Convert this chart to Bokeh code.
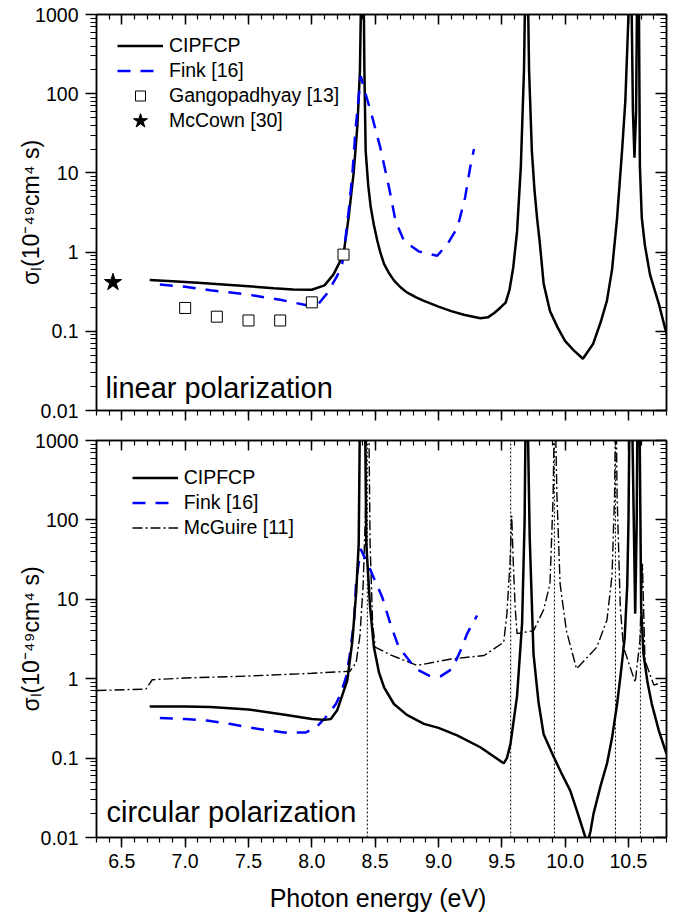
from bokeh.plotting import figure
from bokeh.models import (Range1d, LogAxis, LinearAxis, FixedTicker, SingleIntervalTicker,
                          PrintfTickFormatter, CustomJSTickFormatter, Legend, LegendItem, Label)
from bokeh.layouts import column
from bokeh.embed import file_html
from bokeh.resources import INLINE

# ---------------- data ----------------
X_START, X_END = 6.3, 10.8
Y_START, Y_END = 0.01, 1000
Y_MAJOR = [0.01, 0.1, 1, 10, 100, 1000]
Y_MINOR = [m * 10.0 ** e for e in range(-2, 3) for m in range(2, 10)]

# linear polarization
LIN_CIP_X = [6.72, 6.9, 7.1, 7.3, 7.5, 7.7, 7.85, 8.0, 8.1, 8.17, 8.25, 8.29, 8.33, 8.36, 8.38, 8.393,
             8.407, 8.415, 8.425, 8.445, 8.465, 8.49, 8.517, 8.54, 8.57, 8.61, 8.648, 8.7, 8.75, 8.82,
             8.88, 9.0, 9.1, 9.2, 9.33, 9.39, 9.44, 9.49, 9.53, 9.56, 9.59, 9.62, 9.65, 9.675,
             9.688, 9.702, 9.715, 9.737, 9.758, 9.778, 9.8, 9.83, 9.88, 9.94, 10.0, 10.07, 10.14, 10.22,
             10.28, 10.33, 10.37, 10.41, 10.45, 10.475, 10.5,
             10.508, 10.52, 10.535, 10.547, 10.56, 10.57, 10.58, 10.59, 10.605, 10.63, 10.67, 10.74, 10.8]
LIN_CIP_Y = [0.445, 0.43, 0.41, 0.39, 0.37, 0.35, 0.338, 0.335, 0.38, 0.52, 0.93, 2.7, 10, 40, 200, 5000,
             5000, 200, 19, 7, 3.7, 2.2, 1.39, 1.0, 0.71, 0.54, 0.44, 0.36, 0.31, 0.27,
             0.244, 0.205, 0.18, 0.162, 0.146, 0.15, 0.17, 0.2, 0.23, 0.33, 0.64, 1.8, 12, 200,
             5000, 5000, 200, 19, 6, 2.7, 1.3, 0.4, 0.18, 0.112, 0.075, 0.057, 0.045, 0.069,
             0.13, 0.244, 0.6, 2.7, 20, 81, 1000,
             5000, 5000, 60, 15.6, 60, 5000, 5000, 12, 2.7, 1.2, 0.52, 0.22, 0.093]

FINK_LIN_X = [6.8, 7.0, 7.2, 7.5, 7.75, 7.95, 8.05, 8.12, 8.2, 8.24, 8.27, 8.294, 8.32, 8.346, 8.386,
              8.425, 8.478, 8.54, 8.61, 8.66, 8.727, 8.845, 8.99, 9.07, 9.15, 9.21, 9.25, 9.28]
FINK_LIN_Y = [0.39, 0.365, 0.33, 0.29, 0.25, 0.215, 0.22, 0.3, 0.5, 0.71, 1.7, 3.7, 9.7, 37, 167,
              99, 50, 21, 6.5, 2.5, 1.39, 1.02, 0.90, 1.26, 2.04, 4.9, 11.7, 20]

GANG_X = [7.0, 7.25, 7.5, 7.75, 8.0, 8.25]
GANG_Y = [0.197, 0.153, 0.137, 0.137, 0.232, 0.93]

MCCOWN_X = [6.43]
MCCOWN_Y = [0.415]

# circular polarization
CIR_CIP_X = [6.72, 7.0, 7.2, 7.5, 7.8, 8.0, 8.1, 8.15, 8.2, 8.28, 8.32, 8.35, 8.37, 8.382, 8.418, 8.43,
             8.46, 8.49, 8.53, 8.57, 8.648, 8.75, 8.885, 9.0, 9.147, 9.33, 9.515, 9.54, 9.568, 9.62, 9.66,
             9.68, 9.69, 9.70, 9.72, 9.75, 9.79, 9.83, 9.91, 9.97, 10.04, 10.1, 10.16, 10.18, 10.2, 10.224,
             10.28, 10.33, 10.37, 10.41, 10.44, 10.47, 10.49, 10.50, 10.51,
             10.525, 10.553, 10.565, 10.572, 10.585, 10.6, 10.618, 10.65, 10.684, 10.74, 10.8]
CIR_CIP_Y = [0.447, 0.445, 0.44, 0.41, 0.35, 0.31, 0.303, 0.31, 0.40, 0.95, 3, 12, 50, 5000, 5000, 50,
             8, 2.5, 1.2, 0.78, 0.48, 0.35, 0.27, 0.24, 0.193, 0.137, 0.086, 0.1, 0.15, 0.6, 5,
             100, 5000, 5000, 60, 2.06, 0.5, 0.2, 0.103, 0.065, 0.039, 0.02, 0.01, 0.009, 0.012, 0.02,
             0.045, 0.085, 0.18, 0.48, 1.2, 3.3, 15, 100, 5000,
             5000, 6.6, 100, 5000, 5000, 8, 2.06, 0.9, 0.48, 0.22, 0.113]

FINK_CIR_X = [6.8, 7.0, 7.17, 7.35, 7.57, 7.78, 7.95, 8.03, 8.11, 8.19, 8.228, 8.27, 8.30, 8.334, 8.35,
              8.386, 8.464, 8.556, 8.62, 8.686, 8.82, 8.937, 9.016, 9.108, 9.174, 9.226, 9.305]
FINK_CIR_Y = [0.32, 0.31, 0.298, 0.27, 0.234, 0.21, 0.21, 0.24, 0.327, 0.48, 0.65, 1.05, 2.0, 5.4, 17,
              43, 23, 10.6, 4.9, 2.5, 1.33, 1.07, 1.07, 1.33, 2.26, 3.7, 6.25]

MCG_X = [6.3, 6.69, 6.74, 7.0, 7.5, 8.0, 8.3, 8.35, 8.38, 8.405, 8.425, 8.435, 8.447, 8.46, 8.48, 8.5,
         8.62, 8.83, 9.1, 9.36, 9.515, 9.54, 9.565, 9.578, 9.59, 9.605, 9.62, 9.7, 9.75, 9.83, 9.88, 9.905,
         9.918, 9.935, 9.96, 10.01, 10.09, 10.25, 10.33, 10.37, 10.39, 10.4, 10.41, 10.435, 10.46, 10.553,
         10.59, 10.61, 10.63, 10.70, 10.8]
MCG_Y = [0.71, 0.74, 0.97, 1.02, 1.08, 1.17, 1.24, 1.6, 3.5, 15, 150, 5000, 5000, 50, 5, 2.5,
         2.0, 1.47, 1.77, 1.96, 2.88, 6.6, 30, 113, 30, 8, 3.7, 3.9, 4.0, 7.4, 15.6, 200,
         5000, 200, 15.6, 4.0, 1.33, 2.5, 5.5, 20, 200, 5000, 200, 8, 2.5, 0.9,
         3, 28, 1.7, 0.83, 0.94]

VLINES_X = [8.438, 9.57, 9.915, 10.397, 10.594]

LABEL_TOP = "linear polarization"
LABEL_BOTTOM = "circular polarization"
X_TITLE = "Photon energy  (eV)"
Y_TITLE = "σₗ(10⁻⁴⁹cm⁴ s)"

# ---------------- styling ----------------
FONT = "Liberation Sans"
BLUE = "#0000ff"
TICK_FONT = "19.5px"
ASC, DESC = 0.905, 0.212


def hide_labels(ax):
    ax.major_label_text_font_size = "1px"
    ax.major_label_text_color = None
    ax.major_label_standoff = 0


def make_fig(height, b_top, b_bottom, show_xlabels):
    p = figure(width=688, height=height,
               x_range=Range1d(X_START, X_END), y_range=Range1d(Y_START, Y_END),
               y_axis_type="log", output_backend="svg", toolbar_location=None,
               min_border_left=96, min_border_right=22,
               min_border_top=b_top, min_border_bottom=b_bottom)
    p.grid.visible = False
    p.outline_line_color = "black"
    p.outline_line_width = 1.5
    p.background_fill_color = "white"
    p.border_fill_color = "white"

    xt = SingleIntervalTicker(interval=0.5, num_minor_ticks=5)
    yt = FixedTicker(ticks=Y_MAJOR, minor_ticks=Y_MINOR)

    common = dict(axis_line_color="black", axis_line_width=1.5,
                  major_tick_line_color="black", major_tick_line_width=1.5,
                  minor_tick_line_color="black", minor_tick_line_width=1.2)

    xb = p.xaxis[0]
    xb.ticker = xt
    xb.formatter = PrintfTickFormatter(format="%.1f")
    xb.major_tick_out = 10
    xb.major_tick_in = 0
    xb.minor_tick_out = 5
    xb.minor_tick_in = 0
    for k, v in common.items():
        setattr(xb, k, v)
    if show_xlabels:
        xb.major_label_text_font = FONT
        xb.major_label_text_font_size = TICK_FONT
        xb.major_label_text_color = "black"
        xb.major_label_standoff = 6
        xb.axis_label = X_TITLE
        xb.axis_label_text_font = FONT
        xb.axis_label_text_font_size = "25px"
        xb.axis_label_text_font_style = "normal"
        xb.axis_label_text_color = "black"
        xb.axis_label_standoff = 13
    else:
        hide_labels(xb)

    yl = p.yaxis[0]
    yl.ticker = yt
    yl.formatter = CustomJSTickFormatter(code="return tick.toString();")
    yl.major_tick_out = 11
    yl.major_tick_in = 0
    yl.minor_tick_out = 6
    yl.minor_tick_in = 0
    yl.major_label_text_font = FONT
    yl.major_label_text_font_size = TICK_FONT
    yl.major_label_text_color = "black"
    yl.major_label_standoff = 7
    yl.axis_label = Y_TITLE
    yl.axis_label_text_font = FONT
    yl.axis_label_text_font_size = "23px"
    yl.axis_label_text_font_style = "normal"
    yl.axis_label_text_color = "black"
    yl.axis_label_standoff = -12
    for k, v in common.items():
        setattr(yl, k, v)

    xa = LinearAxis(ticker=xt, major_tick_in=10, major_tick_out=0, minor_tick_in=5, minor_tick_out=0,
                    **common)
    hide_labels(xa)
    p.add_layout(xa, "above")
    yr = LogAxis(ticker=yt, major_tick_in=11, major_tick_out=0, minor_tick_in=6, minor_tick_out=0,
                 **common)
    hide_labels(yr)
    p.add_layout(yr, "right")
    return p


def add_panel_text(p, txt, left, baseline_from_bottom):
    fs = 29
    mid = (ASC - DESC) / 2 * fs
    p.add_layout(Label(x=left, y=baseline_from_bottom + mid, x_units="screen", y_units="screen",
                       text=txt, text_font=FONT, text_font_size=f"{fs}px", text_color="black",
                       text_align="left", text_baseline="middle"))


def legend(items, loc, row_h=25):
    return Legend(items=items, location=loc, glyph_width=46, glyph_height=row_h, label_height=row_h,
                  label_standoff=6, spacing=0, padding=0, margin=0, border_line_alpha=0,
                  background_fill_alpha=0, label_text_font=FONT, label_text_font_size="19.5px",
                  label_text_color="black")


# ---------------- top panel ----------------
top = make_fig(425, 14, 15, False)
r1 = top.line(LIN_CIP_X, LIN_CIP_Y, line_color="black", line_width=2.5)
r2 = top.line(FINK_LIN_X, FINK_LIN_Y, line_color=BLUE, line_width=2.5, line_dash="13 10")
r3 = top.scatter(GANG_X, GANG_Y, marker="square", size=11, fill_color="white",
                 line_color="black", line_width=1)
r4 = top.scatter(MCCOWN_X, MCCOWN_Y, marker="star", size=18, fill_color="black", line_color="black")
top.add_layout(legend([LegendItem(label="CIPFCP", renderers=[r1]),
                       LegendItem(label="Fink [16]", renderers=[r2]),
                       LegendItem(label="Gangopadhyay [13]", renderers=[r3])], (21, 302.5)))
top.add_layout(legend([LegendItem(label="McCown [30]", renderers=[r4])], (21, 271.5), row_h=37))
add_panel_text(top, LABEL_TOP, 9, 12)

# ---------------- bottom panel ----------------
bot = make_fig(492, 15, 80, True)
bot.segment(x0=VLINES_X, y0=[Y_START] * len(VLINES_X), x1=VLINES_X, y1=[Y_END] * len(VLINES_X),
            line_color="black", line_width=1, line_dash="2 2")
s3 = bot.line(MCG_X, MCG_Y, line_color="black", line_width=1.4, line_dash="10 3 2 3")
s2 = bot.line(FINK_CIR_X, FINK_CIR_Y, line_color=BLUE, line_width=2.5, line_dash="13 10")
s1 = bot.line(CIR_CIP_X, CIR_CIP_Y, line_color="black", line_width=2.5)
bot.add_layout(legend([LegendItem(label="CIPFCP", renderers=[s1]),
                       LegendItem(label="Fink [16]", renderers=[s2]),
                       LegendItem(label="McGuire [11]", renderers=[s3])], (35.7, 297.2)))
add_panel_text(bot, LABEL_BOTTOM, 10, 15.3)

layout = column(top, bot, spacing=0)
open("out.html", "w").write(file_html(layout, INLINE))
